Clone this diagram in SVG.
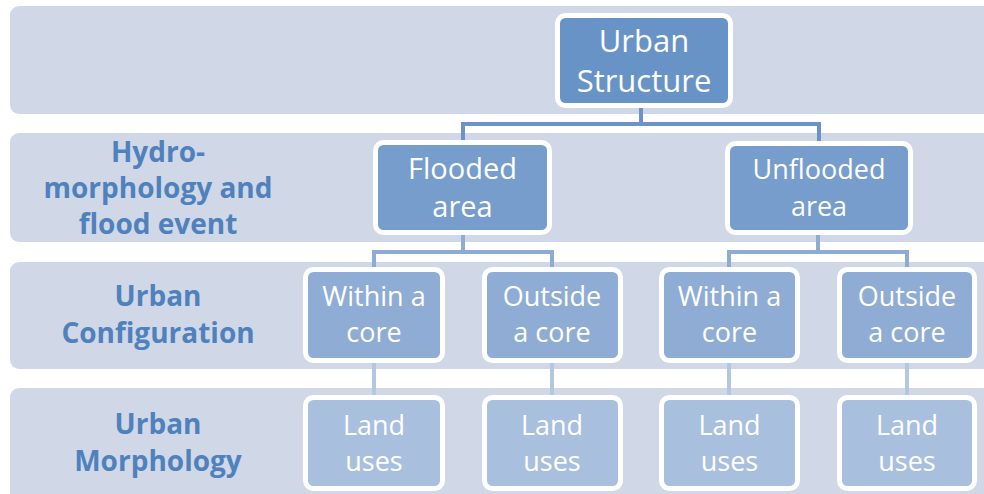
<svg xmlns="http://www.w3.org/2000/svg" width="984" height="494" viewBox="0 0 984 494">
<style>
.band{fill:#D0D8E7}
.box{stroke:#FFFFFF;stroke-width:5}
.l1{fill:#6893C7}
.l2{fill:#769DCB}
.l3{fill:#8FADD4}
.l4{fill:#A9BFDE}
.t{font-family:"Open Sans","Liberation Sans",sans-serif;fill:#FFFFFF;text-anchor:middle}
.lab{font-family:"Open Sans","Liberation Sans",sans-serif;font-weight:bold;fill:#4F81BD;text-anchor:middle;font-size:28px}
.c{fill:none;stroke-width:4}
</style>
<rect class="band" x="10" y="6" width="990" height="108" rx="9"/>
<rect class="band" x="10" y="133" width="990" height="109" rx="9"/>
<rect class="band" x="10" y="262" width="990" height="107" rx="9"/>
<rect class="band" x="10" y="388" width="990" height="120" rx="9"/>
<g id="labels">
<text class="lab" x="158" y="162">Hydro-</text>
<text class="lab" x="158" y="198">morphology and</text>
<text class="lab" x="158" y="234">flood event</text>
<text class="lab" x="158" y="306">Urban</text>
<text class="lab" x="158" y="343">Configuration</text>
<text class="lab" x="158" y="434">Urban</text>
<text class="lab" x="158" y="471">Morphology</text>
</g>
<g id="connectors">
<path class="c" stroke="#6B93C7" d="M463 142 V124 H819 V143 M641 108 V124"/>
<path class="c" stroke="#8EABD3" d="M463 235 V252 M374 269 V252 H552 V269 M818 235 V252 M729 269 V252 H907 V269"/>
<path class="c" stroke="#B4C7E1" d="M374 363 V397 M552 363 V397 M729 363 V397 M907 363 V397"/>
</g>
<g id="urban-structure">
<rect class="box l1" x="557.5" y="15.5" width="173" height="90" rx="8"/>
<text class="t" font-size="31" x="644" y="52">Urban</text>
<text class="t" font-size="31" x="644" y="92">Structure</text>
</g>
<g id="flooded">
<rect class="box l2" x="375.5" y="142.5" width="174" height="90" rx="8"/>
<text class="t" font-size="29" x="462.5" y="179">Flooded</text>
<text class="t" font-size="29" x="462.5" y="217">area</text>
</g>
<g id="unflooded">
<rect class="box l2" x="727.5" y="143.5" width="183" height="89" rx="8"/>
<text class="t" font-size="27" x="819" y="179">Unflooded</text>
<text class="t" font-size="27" x="819" y="216">area</text>
</g>
<g id="within1">
<rect class="box l3" x="305.5" y="269.5" width="137" height="91" rx="8"/>
<text class="t" font-size="27" x="374" y="306">Within a</text>
<text class="t" font-size="27" x="374" y="342">core</text>
</g>
<g id="outside1">
<rect class="box l3" x="484.5" y="269.5" width="136" height="91" rx="8"/>
<text class="t" font-size="27" x="552" y="306">Outside</text>
<text class="t" font-size="27" x="552" y="342">a core</text>
</g>
<g id="within2">
<rect class="box l3" x="661.5" y="269.5" width="136" height="91" rx="8"/>
<text class="t" font-size="27" x="729.5" y="306">Within a</text>
<text class="t" font-size="27" x="729.5" y="342">core</text>
</g>
<g id="outside2">
<rect class="box l3" x="839.5" y="269.5" width="135" height="91" rx="8"/>
<text class="t" font-size="27" x="907" y="306">Outside</text>
<text class="t" font-size="27" x="907" y="342">a core</text>
</g>
<g id="land1">
<rect class="box l4" x="305.5" y="397.5" width="137" height="91" rx="8"/>
<text class="t" font-size="27" x="374" y="435">Land</text>
<text class="t" font-size="27" x="374" y="471">uses</text>
</g>
<g id="land2">
<rect class="box l4" x="484.5" y="397.5" width="136" height="91" rx="8"/>
<text class="t" font-size="27" x="552" y="435">Land</text>
<text class="t" font-size="27" x="552" y="471">uses</text>
</g>
<g id="land3">
<rect class="box l4" x="661.5" y="397.5" width="136" height="91" rx="8"/>
<text class="t" font-size="27" x="729.5" y="435">Land</text>
<text class="t" font-size="27" x="729.5" y="471">uses</text>
</g>
<g id="land4">
<rect class="box l4" x="839.5" y="397.5" width="135" height="91" rx="8"/>
<text class="t" font-size="27" x="907" y="435">Land</text>
<text class="t" font-size="27" x="907" y="471">uses</text>
</g>
</svg>
